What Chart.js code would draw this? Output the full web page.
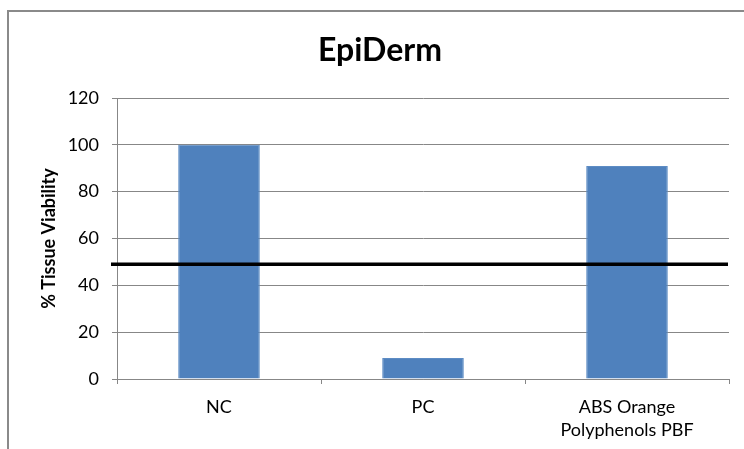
<!DOCTYPE html>
<html>
<head>
<meta charset="utf-8">
<script src="https://cdn.jsdelivr.net/npm/chart.js@4.4.0/dist/chart.umd.min.js"></script>
<style>
  html, body { margin: 0; padding: 0; background: #fff; }
  #box { position: relative; width: 744px; height: 449px; overflow: hidden; }
</style>
</head>
<body>
<div id="box"><canvas id="chart" width="744" height="449"></canvas></div>
<script>
// values
const groups = [['NC'], ['PC'], ['ABS Orange', 'Polyphenols PBF']]
const viability = [100, 9, 91]
const cutOff = 49
const yTicks = [0, 20, 40, 60, 80, 100, 120]

const gridGrey = '#878787'

// grey frame round the chart, as in the picture
const framePlugin = {
    id: 'frame',
    beforeDraw(chart) {
        let ctx = chart.ctx
        ctx.save()
        ctx.fillStyle = '#fff'
        ctx.fillRect(0, 0, chart.width, chart.height)
        ctx.strokeStyle = '#8a8a8a'
        ctx.lineWidth = 2
        ctx.strokeRect(8, 11, chart.width + 20, chart.height + 20)
        ctx.restore()
    }
}

// thick black cut-off line
const cutOffPlugin = {
    id: 'cutOff',
    afterDatasetsDraw(chart) {
        let ctx = chart.ctx
        let area = chart.chartArea
        let y = chart.scales.y.getPixelForValue(cutOff)
        ctx.save()
        ctx.strokeStyle = '#000'
        ctx.lineWidth = 3.5
        ctx.beginPath()
        ctx.moveTo(area.left - 6, y)
        ctx.lineTo(area.right - 1, y)
        ctx.stroke()
        ctx.restore()
    }
}

const data = {
    labels: groups,
    datasets: [{
        label: '% Tissue Viability',
        data: viability,
        backgroundColor: '#4f81bd',
        borderColor: '#5d8cc4',
        borderWidth: 1,
        barPercentage: 0.4,
        categoryPercentage: 1
    }]
}

const config = {
    type: 'bar',
    data: data,
    plugins: [framePlugin, cutOffPlugin],
    options: {
        responsive: false,
        animation: false,
        layout: { padding: { left: 31, right: 15, top: 0, bottom: 0 } },
        plugins: {
            legend: { display: false },
            tooltip: { enabled: false },
            title: {
                display: true,
                text: 'EpiDerm',
                color: '#000',
                font: { family: 'Lato', size: 32, weight: 'bold' },
                padding: { top: 31, bottom: 28.6 }
            }
        },
        scales: {
            x: {
                grid: {
                    offset: true,
                    drawOnChartArea: false,
                    drawTicks: true,
                    tickLength: 5,
                    color: gridGrey
                },
                border: { color: gridGrey },
                ticks: {
                    color: '#000',
                    padding: 11,
                    maxRotation: 0,
                    font: { family: 'Lato', size: 18, lineHeight: 1.32 }
                },
                afterFit(scale) { scale.height = 70 }
            },
            y: {
                min: 0,
                max: 120,
                afterBuildTicks(scale) { scale.ticks = yTicks.map(v => ({ value: v })) },
                grid: { color: gridGrey, tickLength: 5 },
                border: { color: gridGrey },
                ticks: {
                    color: '#000',
                    padding: 13,
                    font: { family: 'Lato', size: 18 }
                },
                title: {
                    display: true,
                    text: '% Tissue Viability',
                    color: '#000',
                    font: { family: 'Lato', size: 18, weight: 'bold' },
                    padding: { top: 7, bottom: 0 }
                },
                afterFit(scale) { scale.width = 86 }
            }
        }
    }
}

let ctx = document.getElementById('chart').getContext('2d')
new Chart(ctx, config)
</script>
</body>
</html>
